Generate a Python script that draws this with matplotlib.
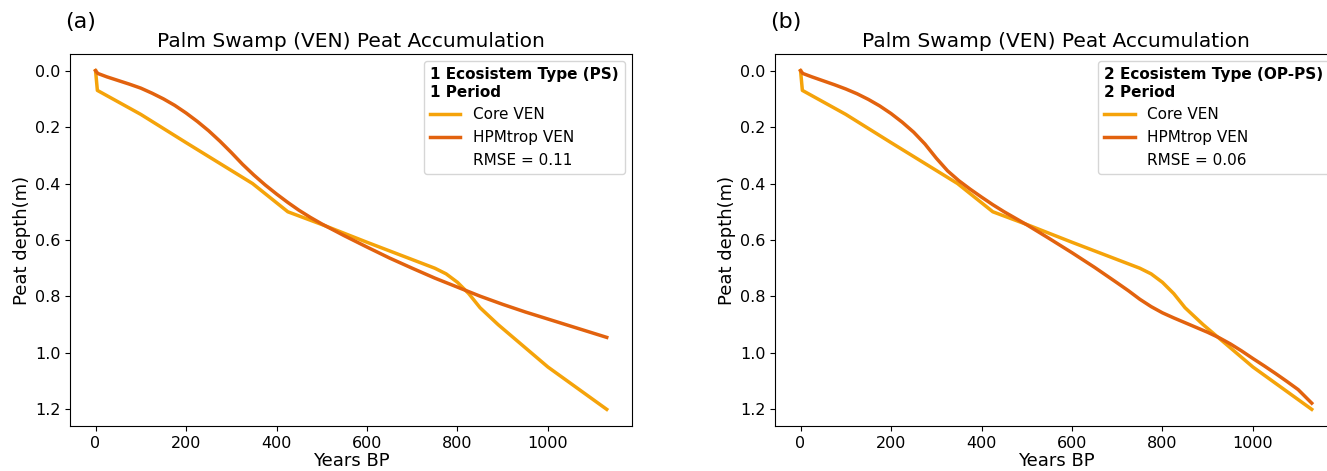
import matplotlib
matplotlib.use('Agg')
import matplotlib.pyplot as plt
from matplotlib.lines import Line2D

# core data (same for both panels)
core_years = [0, 4, 100, 200, 347, 425, 500, 600, 750, 775, 800, 825, 850, 890, 1000, 1130]
core_depth = [0.0, 0.07, 0.155, 0.255, 0.40, 0.50, 0.545, 0.608, 0.70, 0.72, 0.75, 0.79,
              0.84, 0.90, 1.05, 1.20]

# HPMtrop model, panel (a): 1 ecosystem type, 1 period
hpm_a_years = [0, 5, 25, 50, 75, 100, 125, 150, 175, 200, 225, 250, 275, 300, 325, 350,
               375, 400, 425, 450, 475, 500, 550, 600, 650, 700, 750, 800, 850, 900,
               950, 1000, 1050, 1100, 1130]
hpm_a_depth = [0.0, 0.01, 0.022, 0.035, 0.048, 0.062, 0.08, 0.10, 0.123, 0.15, 0.18, 0.213,
               0.25, 0.29, 0.332, 0.37, 0.405, 0.437, 0.467, 0.495, 0.52, 0.543, 0.585,
               0.625, 0.664, 0.70, 0.735, 0.767, 0.799, 0.828, 0.855, 0.88, 0.905, 0.93,
               0.945]

# HPMtrop model, panel (b): 2 ecosystem types, 2 periods
hpm_b_years = [0, 5, 25, 50, 75, 100, 125, 150, 175, 200, 225, 250, 275, 300, 325, 350,
               375, 400, 425, 450, 475, 500, 550, 600, 650, 700, 725, 750, 775, 800, 825,
               850, 875, 900, 925, 950, 975, 1000, 1025, 1050, 1075, 1100, 1130]
hpm_b_depth = [0.0, 0.01, 0.022, 0.036, 0.05, 0.065, 0.082, 0.102, 0.125, 0.152, 0.183,
               0.218, 0.26, 0.31, 0.355, 0.39, 0.42, 0.448, 0.475, 0.50, 0.523, 0.546,
               0.595, 0.645, 0.697, 0.752, 0.78, 0.81, 0.836, 0.858, 0.876, 0.893, 0.91,
               0.927, 0.946, 0.968, 0.993, 1.02, 1.046, 1.073, 1.101, 1.13, 1.178]

panels = ['(a)', '(b)']
legend_titles = ['1 Ecosistem Type (PS)\n1 Period', '2 Ecosistem Type (OP-PS)\n2 Period']
rmse_vals = ['RMSE = 0.11', 'RMSE = 0.06']
hpm_years = [hpm_a_years, hpm_b_years]
hpm_depth = [hpm_a_depth, hpm_b_depth]

core_color = '#f5a30a'
hpm_color = '#e2620e'

fig = plt.figure(figsize=(13.27, 4.71), dpi=100)
lefts = [70 / 1327, 775 / 1327]
for i in range(2):
	ax = fig.add_axes([lefts[i], 44.7 / 471, 562.3 / 1327, 372.6 / 471])
	ax.plot(core_years, core_depth, color=core_color, lw=2.5, label='Core VEN')
	ax.plot(hpm_years[i], hpm_depth[i], color=hpm_color, lw=2.5, label='HPMtrop VEN')
	ax.invert_yaxis()
	ax.set_xlabel('Years BP', fontsize=13, labelpad=1)
	ax.set_ylabel('Peat depth(m)', fontsize=13, labelpad=3)
	ax.set_title('Palm Swamp (VEN) Peat Accumulation', fontsize=14.5, pad=5)
	ax.tick_params(labelsize=11.5)
	handles, labels = ax.get_legend_handles_labels()
	handles.append(Line2D([], [], color='none'))
	labels.append(rmse_vals[i])
	leg = ax.legend(handles, labels, title=legend_titles[i], loc='upper right',
		fontsize=11, title_fontproperties={'weight': 'bold', 'size': 11})
	leg._legend_box.align = 'left'
	fig.text(lefts[i] - 5 / 1327, 1 - 22 / 471, panels[i], fontsize=16, va='center')

plt.savefig('out.png', dpi=100)
